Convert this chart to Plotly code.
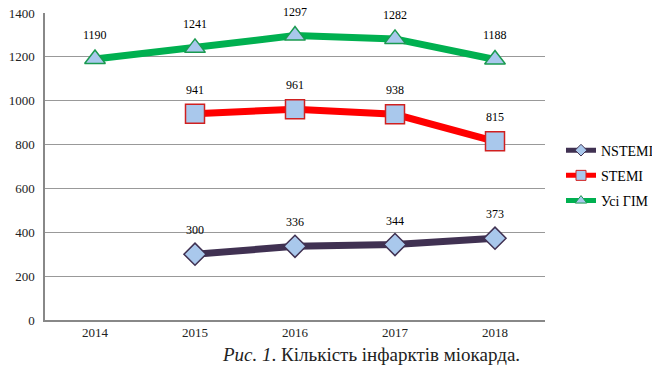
import plotly.graph_objects as go

years = ["2014", "2015", "2016", "2017", "2018"]
nstemi = [None, 300, 336, 344, 373]
stemi = [None, 941, 961, 938, 815]
all_mi = [1190, 1241, 1297, 1282, 1188]
series_names = ["NSTEMI", "STEMI", "Усі ГІМ"]
y_ticks = [0, 200, 400, 600, 800, 1000, 1200, 1400]

SERIF = "Liberation Serif, Times New Roman, serif"
fill = "#a9c8ec"

styles = [
    dict(line="#403152", sym="diamond", size=17, edge="#403152", lsize=9),
    dict(line="#ff0000", sym="square", size=19, edge="#d02020", lsize=10),
    dict(line="#00b050", sym="triangle-up", size=18, edge="#1a9a50", lsize=10),
]

fig = go.Figure()
for name, ser, st in zip(series_names, (nstemi, stemi, all_mi), styles):
    fig.add_trace(go.Scatter(x=years, y=ser, name=name, mode="lines+markers",
                             legendgroup=name, showlegend=False,
                             line=dict(color=st["line"], width=7),
                             marker=dict(symbol=st["sym"], size=st["size"], color=fill,
                                         line=dict(color=st["edge"], width=1.5))))
    # legend-only entry with smaller marker
    fig.add_trace(go.Scatter(x=[None], y=[None], name=name, mode="lines+markers",
                             legendgroup=name, showlegend=True,
                             line=dict(color=st["line"], width=5),
                             marker=dict(symbol=st["sym"], size=st["lsize"], color=fill,
                                         line=dict(color=st["edge"], width=1))))

for ser in (nstemi, stemi, all_mi):
    for i, v in enumerate(ser):
        if v is None:
            continue
        fig.add_annotation(x=i, y=v, text=str(v), showarrow=False, yshift=24,
                           font=dict(family=SERIF, size=12, color="#000000"))

fig.add_annotation(xref="paper", yref="paper", x=0.652, y=-0.114, yanchor="middle",
                   showarrow=False,
                   text="<i>Рис. 1</i>. Кількість інфарктів міокарда.",
                   font=dict(family=SERIF, size=19, color="#222222"))

fig.update_layout(
    width=652, height=377,
    margin=dict(l=45, r=107, t=13, b=57, autoexpand=False),
    paper_bgcolor="white", plot_bgcolor="white",
    showlegend=True,
    legend=dict(x=1.032, y=0.604, xanchor="left", yanchor="top",
                font=dict(family=SERIF, size=14, color="#000000"),
                tracegroupgap=4, itemwidth=30, bgcolor="rgba(0,0,0,0)"),
    xaxis=dict(type="category", range=[-0.5, 4.5], showgrid=False,
               showline=True, linecolor="#888888", linewidth=1.5,
               ticks="", tickfont=dict(family=SERIF, size=13, color="#222222")),
    yaxis=dict(range=[0, 1400], tickvals=y_ticks, showgrid=True,
               gridcolor="#999999", gridwidth=1, zeroline=False,
               showline=True, linecolor="#888888", linewidth=1.5,
               ticks="", ticklabelstandoff=6,
               tickfont=dict(family=SERIF, size=13, color="#222222")),
)

fig.write_html("out.html")
